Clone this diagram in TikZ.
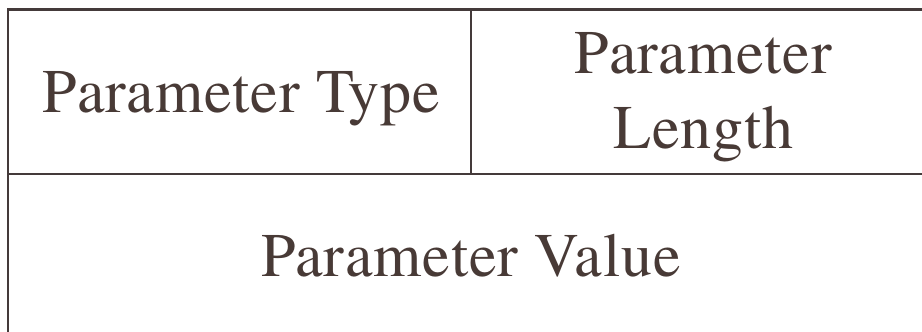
\documentclass[tikz,border=0pt]{standalone}
\usepackage{fontspec}
\newfontfamily\timesf{texgyretermes-regular.otf}[LetterSpace=1.4]
\definecolor{ink}{RGB}{72,58,54}
\definecolor{rule}{RGB}{68,58,58}
\begin{document}
\begin{tikzpicture}[x=1pt,y=-1pt,
  lbl/.style={inner sep=0pt,anchor=base,text=ink,font=\timesf\fontsize{62}{75}\selectfont},
  frame/.style={draw=rule,line width=2.6pt}]
\useasboundingbox (0,0) rectangle (922,332);
\coordinate (tl) at (8,9.5);
\coordinate (tr) at (922,9.5);
\coordinate (bl) at (8,332);
\coordinate (mt) at (471,9.5);
\coordinate (mm) at (471,174);
\coordinate (hl) at (8,174);
\coordinate (hr) at (922,174);
\draw[frame] (bl) -- (tl) -- (tr);
\draw[frame] (mt) -- (mm);
\draw[frame] (hl) -- (hr);
\node[lbl] (ptype) at (241.5,112) {Parameter Type};
\node[lbl] (plen1) at (703.5,73) {Parameter};
\node[lbl] (plen2) at (703.5,148) {Length};
\node[lbl] (pval) at (471,276) {Parameter Value};
\end{tikzpicture}
\end{document}
